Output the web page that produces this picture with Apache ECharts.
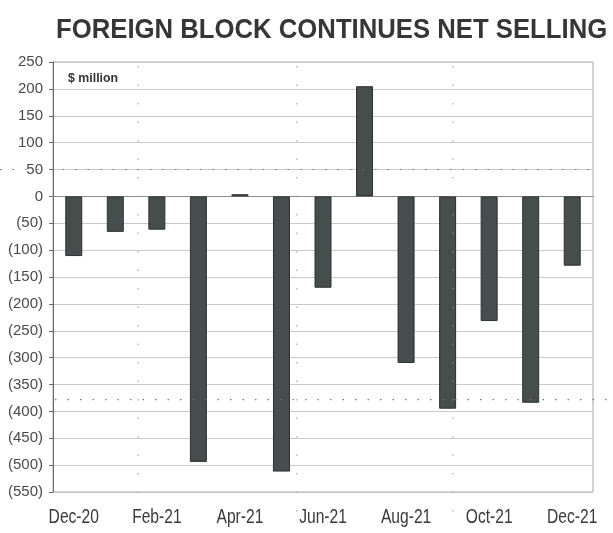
<!DOCTYPE html>
<html>
<head>
<meta charset="utf-8">
<script src="https://cdn.jsdelivr.net/npm/echarts@6/dist/echarts.min.js"></script>
<style>
  html, body { margin: 0; padding: 0; background: #ffffff; }
  #chart { width: 613px; height: 533px; }
</style>
</head>
<body>
<div id="chart"></div>
<script>
// Monthly net flow of the foreign block, $ million
const months = ['Dec-20', 'Jan-21', 'Feb-21', 'Mar-21', 'Apr-21', 'May-21', 'Jun-21',
                'Jul-21', 'Aug-21', 'Sep-21', 'Oct-21', 'Nov-21', 'Dec-21'];
const netFlow = [-111, -66, -62, -494, 4, -512, -170, 205, -310, -395, -232, -384, -129];
const yRange = { min: -550, max: 250, step: 50 };
const titleText = 'FOREIGN BLOCK CONTINUES NET SELLING';
const unitText = '$ million';

const chart = echarts.init(document.getElementById('chart'), null, { renderer: 'canvas' });

const fmtValue = v => (v < 0 ? '(' + Math.abs(v) + ')' : String(v));
const sans = '"Liberation Sans", Arial, sans-serif';

chart.setOption({
  backgroundColor: '#ffffff',
  animation: false,
  grid: {
    left: 53, right: 20, top: 62, bottom: 41,
    show: true, borderColor: '#a8a8a8', borderWidth: 1
  },
  xAxis: [{
    type: 'category',
    data: months,
    boundaryGap: true,
    axisLine: { lineStyle: { color: '#8a8a8a', width: 1 } },
    axisTick: { show: false },
    // month names are drawn below as condensed text
    axisLabel: { show: false },
    splitLine: { show: false }
  }, {
    // fractional helper scale for the dotted guide columns
    type: 'value', min: 0, max: months.length, show: false, position: 'bottom'
  }],
  yAxis: {
    type: 'value',
    min: yRange.min,
    max: yRange.max,
    interval: yRange.step,
    axisLine: { show: true, lineStyle: { color: '#6a6a6a', width: 1 } },
    axisTick: { show: true, length: 4, lineStyle: { color: '#6a6a6a' } },
    axisLabel: {
      formatter: fmtValue,
      margin: 10,
      color: '#4a4a4a',
      fontSize: 15,
      fontFamily: sans
    },
    splitLine: { show: true, lineStyle: { color: '#c9c9c9', width: 1 } }
  },
  series: [{
    type: 'bar',
    data: netFlow,
    barWidth: 17,
    itemStyle: { color: '#454d4d', borderColor: '#2c3232', borderWidth: 1 },
    z: 3
  }]
});

const els = [];

// Condensed bold headline
els.push({
  type: 'text', x: 56, y: 30, scaleX: 0.918, silent: true,
  style: {
    text: titleText, fill: '#363636',
    font: 'bold 28px ' + sans, align: 'left', verticalAlign: 'middle'
  }
});

// Unit note in the top-left corner of the plot
els.push({
  type: 'text', x: 68, y: 78, scaleX: 0.95, silent: true,
  style: {
    text: unitText, fill: '#333333',
    font: 'bold 13px ' + sans, align: 'left', verticalAlign: 'middle'
  }
});

// Every other month name under the axis, condensed
months.forEach((m, i) => {
  if (i % 2 !== 0) return;
  const x = chart.convertToPixel({ xAxisIndex: 0 }, i);
  els.push({
    type: 'text', x: x, y: 517, scaleX: 0.78, silent: true,
    style: {
      text: m, fill: '#3a3a3a',
      font: '20px ' + sans, align: 'center', verticalAlign: 'middle'
    }
  });
});

// Dotted guide rules drawn over the plot
const guideLevels = [
  { value: 50, fromX: 0, toX: 598 },
  { value: -378, fromX: 55, toX: 613 }
];
const guideColumns = [2.05, 5.87, 9.63];

guideLevels.forEach(g => {
  const y = chart.convertToPixel({ yAxisIndex: 0 }, g.value);
  els.push({
    type: 'line', silent: true, z: 10,
    shape: { x1: g.fromX, y1: y, x2: g.toX, y2: y },
    style: { stroke: '#777777', lineWidth: 1.2, lineDash: [1.5, 11] }
  });
});
const yTop = chart.convertToPixel({ yAxisIndex: 0 }, yRange.max);
const yBottom = chart.convertToPixel({ yAxisIndex: 0 }, yRange.min);
guideColumns.forEach(c => {
  const x = chart.convertToPixel({ xAxisIndex: 1 }, c);
  els.push({
    type: 'line', silent: true, z: 10,
    shape: { x1: x, y1: yTop + 4, x2: x, y2: yBottom + 26 },
    style: { stroke: '#9a9a9a', lineWidth: 1, lineDash: [1.5, 17] }
  });
});

chart.setOption({ graphic: els });
</script>
</body>
</html>
